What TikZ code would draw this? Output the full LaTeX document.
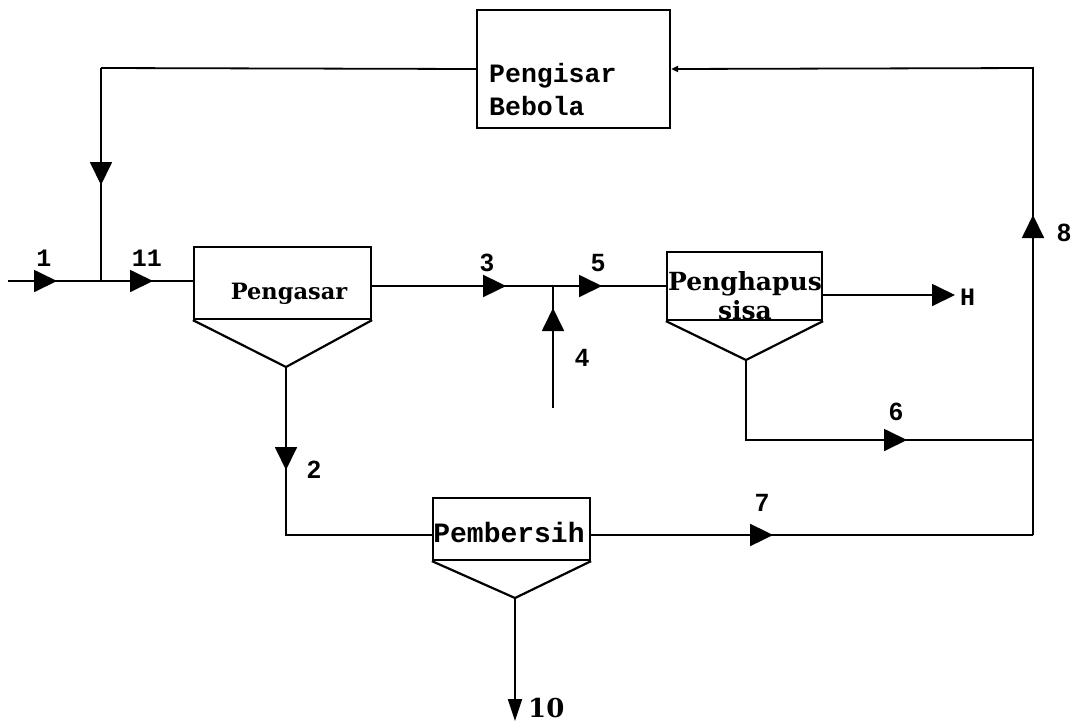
\documentclass[tikz,border=0pt]{standalone}
\usepackage{fontspec}
\newfontfamily\monof{Liberation Mono}
\newfontfamily\serff{DejaVu Serif}
\newfontfamily\sansf{Liberation Sans}
\usetikzlibrary{arrows.meta,decorations.markings}
\tikzset{
  flow/.style={line width=1.8pt},
  unit/.style={draw, rectangle, line width=2.2pt, inner sep=0pt},
  arrowat/.style={postaction={decorate},decoration={markings,
     mark=at position #1 with {\arrow{Triangle[length=23pt,width=22pt]}}}},
  bigtip/.style={-{Triangle[length=23pt,width=22pt]}},
  thintip/.style={-{Triangle[length=22pt,width=14pt]}},
  smalltip/.style={-{Triangle[length=7pt,width=6pt]}},
  num/.style={font=\sansf\bfseries\fontsize{25}{28}\selectfont, inner sep=0pt},
  tnum/.style={font=\monof\bfseries\fontsize{25}{28}\selectfont, inner sep=0pt},
  monolbl/.style={font=\monof\bfseries\fontsize{26.5}{33}\selectfont, inner sep=0pt, align=left},
  seriflbl/.style={font=\serff\bfseries\fontsize{22.5}{29}\selectfont, inner sep=0pt, align=center},
}
\begin{document}
\begin{tikzpicture}[x=1pt,y=-1pt]
\useasboundingbox[fill=white] (0,0) rectangle (1082,724);

% units
\node[unit, minimum width=193pt, minimum height=118pt] (PB) at (573.5,69) {};
\node[monolbl, anchor=west] (PBt) at (489,90) {Pengisar\\Bebola};

\node[unit, minimum width=177pt, minimum height=72pt] (PA) at (282.5,283) {};
\coordinate (A1) at (286,367);
\draw[line width=2.2pt] (PA.south west) -- (A1) -- (PA.south east);
\node[seriflbl] (PAt) at (289,294) {Pengasar};

\node[unit, minimum width=155pt, minimum height=68pt] (PH) at (744.5,286) {};
\coordinate (A2) at (746,360);
\draw[line width=2.2pt] (PH.south west) -- (A2) -- (PH.south east);
\node[seriflbl, font=\serff\bfseries\fontsize{25}{29}\selectfont, anchor=base] (PHt) at (745,319) {Penghapus\\sisa};

\node[unit, minimum width=157pt, minimum height=62pt] (PE) at (511.5,529) {};
\coordinate (A3) at (515,598);
\draw[line width=2.2pt] (PE.south west) -- (A3) -- (PE.south east);
\node[monolbl, font=\monof\bfseries\fontsize{28}{33}\selectfont] (PEt) at (509,532) {Pembersih};

% coordinates
\coordinate (IN) at (8,281);
\coordinate (J1) at (101,281);
\coordinate (TL) at (101,68);
\coordinate (TR) at (1033,68);
\coordinate (J2) at (553,286);
\coordinate (S4) at (553,408);
\coordinate (HT) at (955,295);
\coordinate (C6) at (746,440);
\coordinate (J6) at (1033,440);
\coordinate (J7) at (1033,535);
\coordinate (C2) at (286,535);
\coordinate (OUT) at (515,721);

% flows
\draw[flow, arrowat=49pt] (IN) -- (J1);
\draw[flow, arrowat=52pt] (J1) -- (PA.west |- J1);
\draw[flow] (PB.west) -- (TL);
\draw[flow, arrowat=117pt] (TL) -- (J1);
\draw[flow, arrowat=134pt] (PA.east |- J2) -- (J2);
\draw[flow, arrowat=49pt] (J2) -- (PH.west |- J2);
\draw[flow, arrowat=100pt] (S4) -- (J2);
\draw[flow, bigtip] (PH.east |- HT) -- (HT);
\draw[flow, arrowat=241pt] (A2) -- (C6) -- (J6);
\draw[flow, arrowat=320pt, smalltip] (J7) -- (TR) -- (PB.east);
\draw[flow, arrowat=103pt] (A1) -- (C2) -- (PE.west |- C2);
\draw[flow, arrowat=182pt] (PE.east |- J7) -- (J7);
\draw[flow, thintip] (A3) -- (OUT);

% stream labels
\node[tnum] (n1) at (44,258) {1};
\node[tnum] (n11) at (147,258) {11};
\node[num] (n3) at (487,263) {3};
\node[num] (n5) at (598,263) {5};
\node[num] (n4) at (582,358) {4};
\node[tnum, anchor=west] (nH) at (960,297) {H};
\node[num] (n6) at (896,412) {6};
\node[num] (n8) at (1064,233) {8};
\node[num] (n2) at (314,470) {2};
\node[num] (n7) at (762,503) {7};
\node[font=\serff\bfseries\fontsize{26}{30}\selectfont, inner sep=0pt, anchor=west] (n10) at (528,708) {10};
\end{tikzpicture}
\end{document}
